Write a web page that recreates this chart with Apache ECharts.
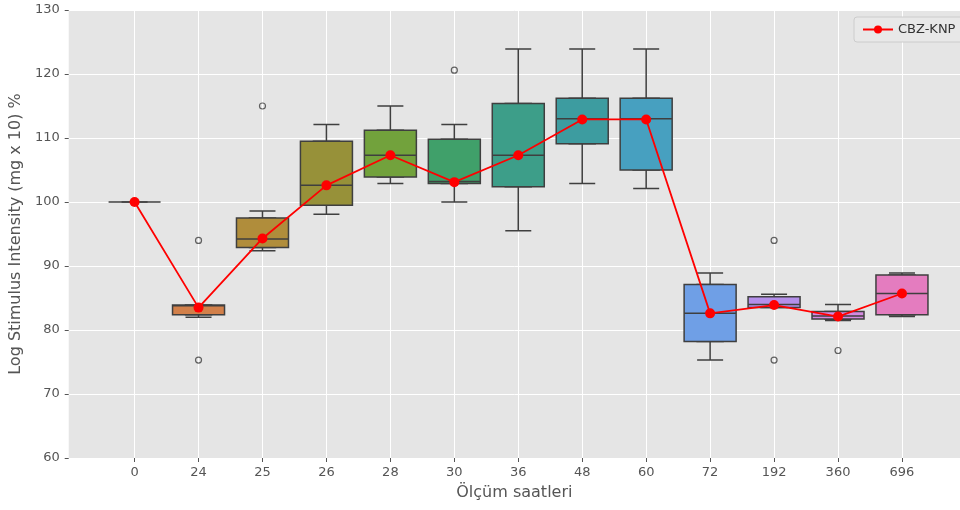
<!DOCTYPE html>
<html>
<head>
<meta charset="utf-8">
<script src="https://cdn.jsdelivr.net/npm/echarts@6/dist/echarts.min.js"></script>
<style>
  html, body { margin: 0; padding: 0; background: #fff; }
  #chart { width: 960px; height: 510px; }
</style>
</head>
<body>
<div id="chart"></div>
<script>
// ölçüm saatleri (kategori)
var hours = ['0', '24', '25', '26', '28', '30', '36', '48', '60', '72', '192', '360', '696'];
// kutu grafiği: [min, Q1, medyan, Q3, max]
var boxStats = [
  [100, 100, 100, 100, 100],
  [82.0, 82.4, 83.8, 83.9, 83.9],
  [92.4, 92.9, 94.2, 97.5, 98.6],
  [98.1, 99.5, 102.6, 109.5, 112.1],
  [102.9, 103.9, 107.3, 111.2, 115.0],
  [100.0, 102.9, 103.2, 109.8, 112.1],
  [95.5, 102.4, 107.3, 115.4, 123.9],
  [102.9, 109.1, 113.0, 116.2, 123.9],
  [102.1, 105.0, 113.0, 116.2, 123.9],
  [75.3, 78.2, 82.6, 87.1, 88.9],
  [83.5, 83.5, 84.0, 85.2, 85.6],
  [81.5, 81.7, 82.2, 82.9, 84.0],
  [82.1, 82.4, 85.7, 88.6, 88.9]
];
// aykırı değerler: [kategori sırası, değer]
var outliers = [
  [1, 94.0], [1, 75.3],
  [2, 115.0],
  [5, 120.6],
  [10, 94.0], [10, 75.3],
  [11, 76.8]
];
// CBZ-KNP ortalama çizgisi
var meanValues = [100, 83.5, 94.3, 102.6, 107.3, 103.1, 107.3, 112.9, 112.9, 82.6, 83.9, 82.1, 85.7];
var boxColors = ['#d96f6f', '#d2804a', '#b08d3b', '#979139', '#72a23c', '#40a06a', '#3d9e89',
  '#3d9ca0', '#47a0c0', '#6f9fe6', '#b48fea', '#d48ae0', '#e47cbf'];

var chart = echarts.init(document.getElementById('chart'));
var fontFam = 'DejaVu Sans';
var edge = '#3f3f3f';
var catIdx = hours.map(function (h, i) { return i; });
var xMin = -1.03, xMax = 12.9075;

// dar kutu: bıyıklar ve kısa uç çizgileri (altta kalır)
var whiskerData = boxStats.map(function (s, i) {
  return [i].concat(s);
});
// geniş kutu: sadece Q1-Q3 gövdesi ve medyan
var bodyData = boxStats.map(function (s, i) {
  return {
    value: [i, s[1], s[1], s[2], s[3], s[3]],
    itemStyle: { color: boxColors[i] }
  };
});
var lineData = meanValues.map(function (v, i) { return [i, v]; });

chart.setOption({
  animation: false,
  backgroundColor: '#fff',
  grid: {
    left: 68, right: 0, top: 10, bottom: 52,
    show: true, backgroundColor: '#e5e5e5', borderWidth: 0
  },
  legend: {
    data: ['CBZ-KNP'],
    left: 854, top: 17,
    padding: [6, 8],
    itemWidth: 30, itemHeight: 10,
    backgroundColor: '#e8e8e8',
    borderColor: '#cccccc', borderWidth: 1, borderRadius: 3,
    textStyle: { color: '#333', fontSize: 13, fontFamily: fontFam }
  },
  xAxis: [{
    type: 'value',
    min: xMin, max: xMax,
    name: 'Ölçüm saatleri',
    nameLocation: 'middle',
    nameGap: 27,
    nameTextStyle: { color: '#555', fontSize: 16, fontFamily: fontFam },
    axisLine: { show: false, onZero: false },
    axisTick: { show: true, length: 4, customValues: catIdx, lineStyle: { color: '#555' } },
    axisLabel: {
      customValues: catIdx,
      color: '#555', fontSize: 13, fontFamily: fontFam, margin: 8,
      formatter: function (v) { return hours[Math.round(v)] || ''; }
    },
    splitLine: { show: true, lineStyle: { color: '#fff', width: 1 } }
  }, {
    // gövde kutuları için görünmez ikinci eksen (gruplamayı önler)
    type: 'value',
    min: xMin, max: xMax,
    show: false
  }],
  yAxis: {
    type: 'value',
    min: 60, max: 130, interval: 10,
    name: 'Log Stimulus Intensity (mg x 10) %',
    nameLocation: 'middle',
    nameGap: 42,
    nameTextStyle: { color: '#555', fontSize: 16, fontFamily: fontFam },
    axisLine: { show: false, onZero: false },
    axisTick: { show: true, length: 4, lineStyle: { color: '#555' } },
    axisLabel: { color: '#555', fontSize: 13, fontFamily: fontFam, margin: 9 },
    splitLine: { show: true, lineStyle: { color: '#fff', width: 1 } }
  },
  series: [
    {
      type: 'boxplot',
      data: whiskerData,
      boxWidth: [26, 26],
      itemStyle: { color: 'rgba(0,0,0,0)', borderColor: edge, borderWidth: 1.5 },
      z: 2
    },
    {
      type: 'boxplot',
      xAxisIndex: 1,
      data: bodyData,
      boxWidth: [52, 52],
      itemStyle: { borderColor: edge, borderWidth: 1.5 },
      z: 3
    },
    {
      type: 'scatter',
      data: outliers,
      symbol: 'circle',
      symbolSize: 6,
      itemStyle: { color: 'rgba(0,0,0,0)', borderColor: edge, borderWidth: 1.2 },
      z: 4
    },
    {
      name: 'CBZ-KNP',
      type: 'line',
      data: lineData,
      symbol: 'circle',
      symbolSize: 10,
      lineStyle: { color: '#ff0000', width: 1.8 },
      itemStyle: { color: '#ff0000' },
      z: 5
    }
  ]
});
</script>
</body>
</html>
